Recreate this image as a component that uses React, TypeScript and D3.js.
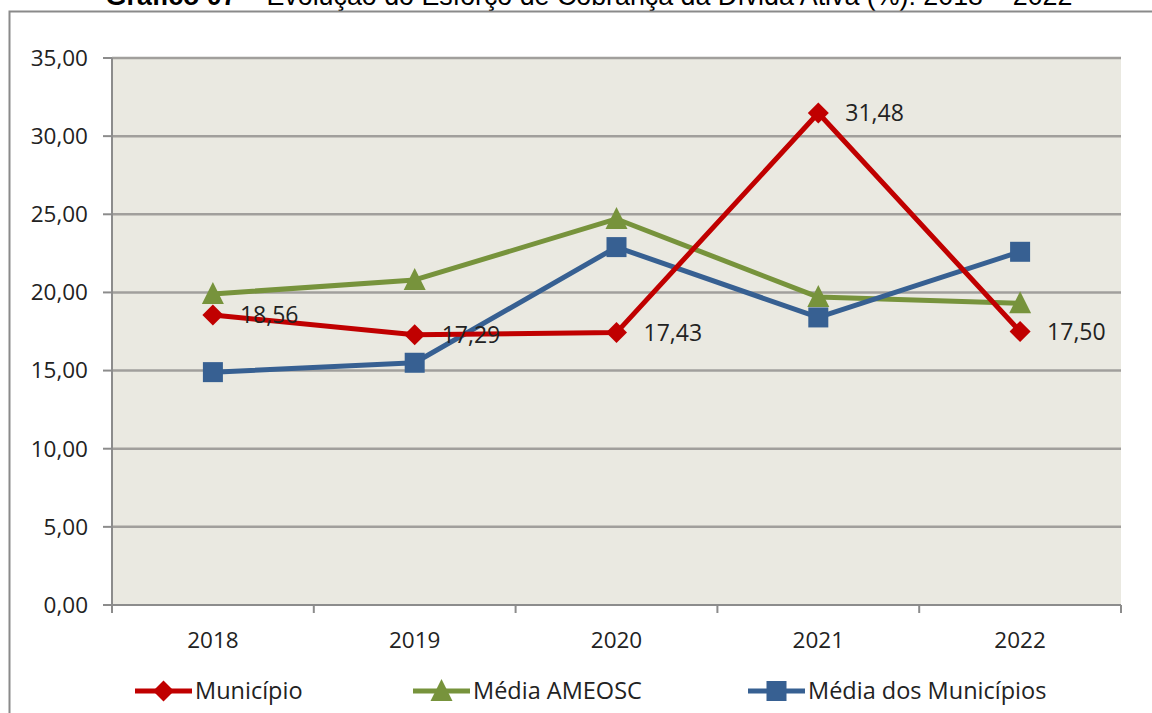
import React from "react";
import * as d3 from "d3";

const years = ["2018", "2019", "2020", "2021", "2022"];
const municipio = [18.56, 17.29, 17.43, 31.48, 17.5];
const mediaAmeosc = [19.9, 20.8, 24.7, 19.7, 19.3];
const mediaMunicipios = [14.9, 15.5, 22.9, 18.4, 22.6];
const yTicks = [0, 5, 10, 15, 20, 25, 30, 35];
const seriesNames = ["Município", "Média AMEOSC", "Média dos Municípios"];
const seriesColors = ["#C00000", "#77933C", "#376092"];
const seriesMarkers = ["diamond", "triangle", "square"];

const W = 1152, H = 713;
const left = 112, right = 1121, top = 58, bottom = 605;
const FONT = "Open Sans, sans-serif";

const fmt = (v: number) => v.toFixed(2).replace(".", ",");

function Marker({ kind, x, y, color }: { kind: string; x: number; y: number; color: string }) {
  if (kind === "diamond") {
    const s = 10.5;
    return <path d={`M${x},${y - s}L${x + s},${y}L${x},${y + s}L${x - s},${y}Z`} fill={color} />;
  }
  if (kind === "triangle") {
    return <path d={`M${x},${y - 12}L${x + 11},${y + 10}L${x - 11},${y + 10}Z`} fill={color} />;
  }
  return <rect x={x - 10} y={y - 10} width={20} height={20} fill={color} />;
}

export default function App() {
  const x = d3.scaleBand<string>().domain(years).range([left, right]);
  const y = d3.scaleLinear().domain([0, 35]).range([bottom, top]);
  const cx = (yr: string) => (x(yr) as number) + x.bandwidth() / 2;
  const data = [municipio, mediaAmeosc, mediaMunicipios];
  const line = d3.line<number>().x((_, i) => cx(years[i])).y((d) => y(d));
  const bandEdges = [...years.map((yr) => x(yr) as number), right];
  const legendX = [135, 413, 748];
  const legendY = 691;
  const order = [1, 2, 0];

  return (
    <svg width={W} height={H} style={{ position: "absolute", left: 0, top: 0 }}>
      <rect x={0} y={0} width={W} height={H} fill="#fff" />
      <text x={589} y={5} textAnchor="middle" fontFamily="Liberation Sans, Arial" fontSize={26.8} fill="#000">
        <tspan fontWeight="bold">Gráfico 07</tspan>
        <tspan> – Evolução do Esforço de Cobrança da Dívida Ativa (%): 2018 – 2022</tspan>
      </text>
      <path d={`M9.5,${H}V11.5H${W}`} fill="none" stroke="#8a8a8a" strokeWidth={2} />
      <rect x={left} y={top} width={right - left} height={bottom - top} fill="#EAE9E1" />
      {yTicks.map((t) => (
        <g key={t}>
          {t > 0 && <line x1={left} x2={right} y1={y(t)} y2={y(t)} stroke="#a19f9c" strokeWidth={2.5} />}
          <line x1={103} x2={left} y1={y(t)} y2={y(t)} stroke="#8c8c8c" strokeWidth={2} />
          <text x={88} y={y(t)} dy="0.35em" textAnchor="end" fontFamily={FONT} fontSize={22.5} fill="#222">
            {fmt(t)}
          </text>
        </g>
      ))}
      <line x1={left} x2={left} y1={top} y2={bottom} stroke="#8c8c8c" strokeWidth={2} />
      <line x1={left} x2={right} y1={bottom} y2={bottom} stroke="#8c8c8c" strokeWidth={2} />
      {bandEdges.map((e, i) => (
        <line key={i} x1={e} x2={e} y1={bottom} y2={bottom + 8} stroke="#8c8c8c" strokeWidth={2} />
      ))}
      {years.map((yr) => (
        <text key={yr} x={cx(yr)} y={640} dy="0.35em" textAnchor="middle" fontFamily={FONT} fontSize={22.5} fill="#222">
          {yr}
        </text>
      ))}
      {order.map((si) => (
        <g key={si}>
          <path d={line(data[si]) as string} fill="none" stroke={seriesColors[si]} strokeWidth={5} strokeLinejoin="round" />
          {data[si].map((v, i) => (
            <Marker key={i} kind={seriesMarkers[si]} x={cx(years[i])} y={y(v)} color={seriesColors[si]} />
          ))}
        </g>
      ))}
      {municipio.map((v, i) => (
        <text key={i} x={cx(years[i]) + 27} y={y(v)} dy="0.35em" fontFamily={FONT} fontSize={23} fill="#222">
          {fmt(v)}
        </text>
      ))}
      {seriesNames.map((n, i) => (
        <g key={n}>
          <line x1={legendX[i]} x2={legendX[i] + 57} y1={legendY} y2={legendY} stroke={seriesColors[i]} strokeWidth={5} />
          <Marker kind={seriesMarkers[i]} x={legendX[i] + 28.5} y={legendY} color={seriesColors[i]} />
          <text x={legendX[i] + 60} y={legendY} dy="0.35em" fontFamily={FONT} fontSize={23.5} fill="#222">
            {n}
          </text>
        </g>
      ))}
    </svg>
  );
}
